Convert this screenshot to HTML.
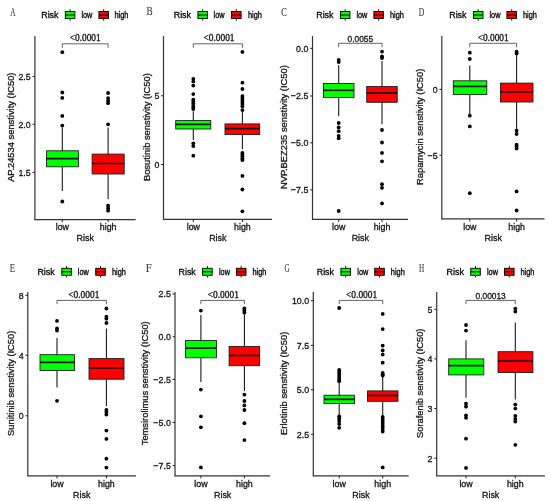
<!DOCTYPE html>
<html><head><meta charset="utf-8"><title>Risk boxplots</title>
<style>html,body{margin:0;padding:0;background:#fff;}svg{display:block;will-change:transform;}</style>
</head><body>
<svg width="550" height="501" viewBox="0 0 550 501">
<rect width="550" height="501" fill="#fff"/>
<g id="pA">
<text transform="translate(10.30,15.60) scale(0.58,1)" text-anchor="start" font-family="Liberation Serif, serif" font-size="12.5" fill="#3a3a3a" stroke="#3a3a3a" stroke-width="0.12">A</text>
<text transform="translate(41.20,18.40) scale(0.91,1)" text-anchor="start" font-family="Liberation Sans, sans-serif" font-size="9.8" fill="#000" stroke="#000" stroke-width="0.3">Risk</text>
<line x1="70.10000000000001" y1="9.100000000000001" x2="70.10000000000001" y2="20.700000000000003" stroke="#000" stroke-width="0.9"/>
<rect x="65.30000000000001" y="11.5" width="9.6" height="7.0" fill="#00ff00" stroke="#000" stroke-width="0.9"/>
<line x1="65.30000000000001" y1="15.0" x2="74.9" y2="15.0" stroke="#000" stroke-width="1.0"/>
<line x1="103.7" y1="9.100000000000001" x2="103.7" y2="20.700000000000003" stroke="#000" stroke-width="0.9"/>
<rect x="98.9" y="11.5" width="9.6" height="7.0" fill="#ff0000" stroke="#000" stroke-width="0.9"/>
<line x1="98.9" y1="15.0" x2="108.5" y2="15.0" stroke="#000" stroke-width="1.0"/>
<text transform="translate(81.40,18.40) scale(0.87,1)" text-anchor="start" font-family="Liberation Sans, sans-serif" font-size="8.4" fill="#000" stroke="#000" stroke-width="0.3">low</text>
<text transform="translate(114.50,18.40) scale(0.88,1)" text-anchor="start" font-family="Liberation Sans, sans-serif" font-size="8.4" fill="#000" stroke="#000" stroke-width="0.3">high</text>
<line x1="34.9" y1="36" x2="34.9" y2="220.1" stroke="#333" stroke-width="1.2"/>
<line x1="34.5" y1="219.6" x2="135.6" y2="219.6" stroke="#333" stroke-width="1.2"/>
<line x1="32.5" y1="76.5" x2="34.9" y2="76.5" stroke="#222" stroke-width="1.0"/>
<text transform="translate(30.70,79.90) scale(0.92,1)" text-anchor="end" font-family="Liberation Sans, sans-serif" font-size="9.6" fill="#111" stroke="#111" stroke-width="0.3">2.5</text>
<line x1="32.5" y1="124.3" x2="34.9" y2="124.3" stroke="#222" stroke-width="1.0"/>
<text transform="translate(30.70,127.70) scale(0.92,1)" text-anchor="end" font-family="Liberation Sans, sans-serif" font-size="9.6" fill="#111" stroke="#111" stroke-width="0.3">2.0</text>
<line x1="32.5" y1="172.4" x2="34.9" y2="172.4" stroke="#222" stroke-width="1.0"/>
<text transform="translate(30.70,175.80) scale(0.92,1)" text-anchor="end" font-family="Liberation Sans, sans-serif" font-size="9.6" fill="#111" stroke="#111" stroke-width="0.3">1.5</text>
<line x1="62.3" y1="219.6" x2="62.3" y2="222.2" stroke="#222" stroke-width="1.0"/>
<text transform="translate(62.30,229.90) scale(0.94,1)" text-anchor="middle" font-family="Liberation Sans, sans-serif" font-size="9.4" fill="#111" stroke="#111" stroke-width="0.3">low</text>
<line x1="108.1" y1="219.6" x2="108.1" y2="222.2" stroke="#222" stroke-width="1.0"/>
<text transform="translate(108.10,229.90) scale(0.94,1)" text-anchor="middle" font-family="Liberation Sans, sans-serif" font-size="9.4" fill="#111" stroke="#111" stroke-width="0.3">high</text>
<text transform="translate(85.20,240.70) scale(0.94,1)" text-anchor="middle" font-family="Liberation Sans, sans-serif" font-size="9.5" fill="#111" stroke="#111" stroke-width="0.3">Risk</text>
<text transform="translate(13.80,127.20) rotate(-90) scale(1,0.92)" text-anchor="middle" font-family="Liberation Sans, sans-serif" font-size="9.35" fill="#111" stroke="#111" stroke-width="0.3">AP.24534 senstivity (IC50)</text>
<line x1="62.3" y1="127.4" x2="62.3" y2="191.1" stroke="#111" stroke-width="1.05"/>
<rect x="46.6" y="150.8" width="31.8" height="16.0" fill="#00ff00" stroke="#151515" stroke-width="0.85"/>
<line x1="46.6" y1="158.7" x2="78.4" y2="158.7" stroke="#111" stroke-width="1.7"/>
<circle cx="62.3" cy="52.2" r="1.9" fill="#000"/>
<circle cx="62.3" cy="92.5" r="1.9" fill="#000"/>
<circle cx="62.3" cy="97.9" r="1.9" fill="#000"/>
<circle cx="62.3" cy="115.9" r="1.9" fill="#000"/>
<circle cx="62.3" cy="125.6" r="1.9" fill="#000"/>
<circle cx="62.3" cy="201.5" r="1.9" fill="#000"/>
<line x1="108.1" y1="127.4" x2="108.1" y2="199.3" stroke="#111" stroke-width="1.05"/>
<rect x="92.1" y="154.1" width="32.1" height="19.9" fill="#ff0000" stroke="#151515" stroke-width="0.85"/>
<line x1="92.1" y1="163.5" x2="124.2" y2="163.5" stroke="#111" stroke-width="1.7"/>
<circle cx="108.1" cy="93.0" r="1.9" fill="#000"/>
<circle cx="108.1" cy="98.1" r="1.9" fill="#000"/>
<circle cx="108.1" cy="100.7" r="1.9" fill="#000"/>
<circle cx="108.1" cy="103.2" r="1.9" fill="#000"/>
<circle cx="108.1" cy="124.3" r="1.9" fill="#000"/>
<circle cx="108.1" cy="205.7" r="1.9" fill="#000"/>
<circle cx="108.1" cy="208.2" r="1.9" fill="#000"/>
<circle cx="108.1" cy="210.7" r="1.9" fill="#000"/>
<path d="M62.3 47.8 V43.8 H108.1 V47.8" fill="none" stroke="#222" stroke-width="0.7"/>
<text transform="translate(85.20,40.90) scale(0.95,1)" text-anchor="middle" font-family="Liberation Serif, serif" font-size="9.9" fill="#111" stroke="#111" stroke-width="0.3">&lt;0.0001</text>
</g>
<g id="pB">
<text transform="translate(146.50,15.10) scale(0.74,1)" text-anchor="start" font-family="Liberation Serif, serif" font-size="12.5" fill="#3a3a3a" stroke="#3a3a3a" stroke-width="0.12">B</text>
<text transform="translate(173.70,18.40) scale(0.91,1)" text-anchor="start" font-family="Liberation Sans, sans-serif" font-size="9.8" fill="#000" stroke="#000" stroke-width="0.3">Risk</text>
<line x1="202.7" y1="9.100000000000001" x2="202.7" y2="20.700000000000003" stroke="#000" stroke-width="0.9"/>
<rect x="197.9" y="11.5" width="9.6" height="7.0" fill="#00ff00" stroke="#000" stroke-width="0.9"/>
<line x1="197.9" y1="15.0" x2="207.5" y2="15.0" stroke="#000" stroke-width="1.0"/>
<line x1="236.29999999999998" y1="9.100000000000001" x2="236.29999999999998" y2="20.700000000000003" stroke="#000" stroke-width="0.9"/>
<rect x="231.5" y="11.5" width="9.6" height="7.0" fill="#ff0000" stroke="#000" stroke-width="0.9"/>
<line x1="231.5" y1="15.0" x2="241.1" y2="15.0" stroke="#000" stroke-width="1.0"/>
<text transform="translate(213.60,18.40) scale(0.87,1)" text-anchor="start" font-family="Liberation Sans, sans-serif" font-size="8.4" fill="#000" stroke="#000" stroke-width="0.3">low</text>
<text transform="translate(248.00,18.40) scale(0.88,1)" text-anchor="start" font-family="Liberation Sans, sans-serif" font-size="8.4" fill="#000" stroke="#000" stroke-width="0.3">high</text>
<line x1="163.5" y1="36" x2="163.5" y2="219.9" stroke="#333" stroke-width="1.2"/>
<line x1="163.1" y1="219.4" x2="272.0" y2="219.4" stroke="#333" stroke-width="1.2"/>
<line x1="161.1" y1="95.8" x2="163.5" y2="95.8" stroke="#222" stroke-width="1.0"/>
<text transform="translate(159.30,99.20) scale(0.92,1)" text-anchor="end" font-family="Liberation Sans, sans-serif" font-size="9.6" fill="#111" stroke="#111" stroke-width="0.3">5</text>
<line x1="161.1" y1="164.5" x2="163.5" y2="164.5" stroke="#222" stroke-width="1.0"/>
<text transform="translate(159.30,167.90) scale(0.92,1)" text-anchor="end" font-family="Liberation Sans, sans-serif" font-size="9.6" fill="#111" stroke="#111" stroke-width="0.3">0</text>
<line x1="193.3" y1="219.4" x2="193.3" y2="222.0" stroke="#222" stroke-width="1.0"/>
<text transform="translate(193.30,229.90) scale(0.94,1)" text-anchor="middle" font-family="Liberation Sans, sans-serif" font-size="9.4" fill="#111" stroke="#111" stroke-width="0.3">low</text>
<line x1="242.4" y1="219.4" x2="242.4" y2="222.0" stroke="#222" stroke-width="1.0"/>
<text transform="translate(242.40,229.90) scale(0.94,1)" text-anchor="middle" font-family="Liberation Sans, sans-serif" font-size="9.4" fill="#111" stroke="#111" stroke-width="0.3">high</text>
<text transform="translate(217.85,240.70) scale(0.94,1)" text-anchor="middle" font-family="Liberation Sans, sans-serif" font-size="9.5" fill="#111" stroke="#111" stroke-width="0.3">Risk</text>
<text transform="translate(150.30,127.10) rotate(-90) scale(1,0.92)" text-anchor="middle" font-family="Liberation Sans, sans-serif" font-size="9.35" fill="#111" stroke="#111" stroke-width="0.3">Bosutinib senstivity (IC50)</text>
<line x1="193.3" y1="111.3" x2="193.3" y2="140.10000000000002" stroke="#111" stroke-width="1.05"/>
<rect x="175.7" y="120.6" width="35.1" height="8.4" fill="#00ff00" stroke="#151515" stroke-width="0.85"/>
<line x1="175.7" y1="124.39999999999999" x2="210.8" y2="124.39999999999999" stroke="#111" stroke-width="1.7"/>
<circle cx="193.3" cy="78.8" r="1.9" fill="#000"/>
<circle cx="193.3" cy="81.6" r="1.9" fill="#000"/>
<circle cx="193.3" cy="85.6" r="1.9" fill="#000"/>
<circle cx="193.3" cy="94.1" r="1.9" fill="#000"/>
<circle cx="193.3" cy="99.6" r="1.9" fill="#000"/>
<circle cx="193.3" cy="101.6" r="1.9" fill="#000"/>
<circle cx="193.3" cy="103.6" r="1.9" fill="#000"/>
<circle cx="193.3" cy="105.6" r="1.9" fill="#000"/>
<circle cx="193.3" cy="107.6" r="1.9" fill="#000"/>
<circle cx="193.3" cy="109.1" r="1.9" fill="#000"/>
<circle cx="193.3" cy="143.3" r="1.9" fill="#000"/>
<circle cx="193.3" cy="146.10000000000002" r="1.9" fill="#000"/>
<circle cx="193.3" cy="155.70000000000002" r="1.9" fill="#000"/>
<line x1="242.4" y1="111.3" x2="242.4" y2="149.3" stroke="#111" stroke-width="1.05"/>
<rect x="225" y="123.89999999999999" width="34.7" height="10.7" fill="#ff0000" stroke="#151515" stroke-width="0.85"/>
<line x1="225" y1="128.70000000000002" x2="259.7" y2="128.70000000000002" stroke="#111" stroke-width="1.7"/>
<circle cx="242.4" cy="51.9" r="1.9" fill="#000"/>
<circle cx="242.4" cy="82.7" r="1.9" fill="#000"/>
<circle cx="242.4" cy="89.0" r="1.9" fill="#000"/>
<circle cx="242.4" cy="96.1" r="1.9" fill="#000"/>
<circle cx="242.4" cy="98.1" r="1.9" fill="#000"/>
<circle cx="242.4" cy="100.1" r="1.9" fill="#000"/>
<circle cx="242.4" cy="102.1" r="1.9" fill="#000"/>
<circle cx="242.4" cy="104.1" r="1.9" fill="#000"/>
<circle cx="242.4" cy="106.3" r="1.9" fill="#000"/>
<circle cx="242.4" cy="110.1" r="1.9" fill="#000"/>
<circle cx="242.4" cy="152.9" r="1.9" fill="#000"/>
<circle cx="242.4" cy="154.70000000000002" r="1.9" fill="#000"/>
<circle cx="242.4" cy="156.5" r="1.9" fill="#000"/>
<circle cx="242.4" cy="158.3" r="1.9" fill="#000"/>
<circle cx="242.4" cy="160.10000000000002" r="1.9" fill="#000"/>
<circle cx="242.4" cy="175.9" r="1.9" fill="#000"/>
<circle cx="242.4" cy="189.5" r="1.9" fill="#000"/>
<circle cx="242.4" cy="211.3" r="1.9" fill="#000"/>
<path d="M193.3 47.8 V43.8 H242.4 V47.8" fill="none" stroke="#222" stroke-width="0.7"/>
<text transform="translate(219.00,40.90) scale(0.95,1)" text-anchor="middle" font-family="Liberation Serif, serif" font-size="9.9" fill="#111" stroke="#111" stroke-width="0.3">&lt;0.0001</text>
</g>
<g id="pC">
<text transform="translate(281.30,15.60) scale(0.67,1)" text-anchor="start" font-family="Liberation Serif, serif" font-size="12.5" fill="#3a3a3a" stroke="#3a3a3a" stroke-width="0.12">C</text>
<text transform="translate(316.20,18.40) scale(0.91,1)" text-anchor="start" font-family="Liberation Sans, sans-serif" font-size="9.8" fill="#000" stroke="#000" stroke-width="0.3">Risk</text>
<line x1="345.2" y1="9.100000000000001" x2="345.2" y2="20.700000000000003" stroke="#000" stroke-width="0.9"/>
<rect x="340.4" y="11.5" width="9.6" height="7.0" fill="#00ff00" stroke="#000" stroke-width="0.9"/>
<line x1="340.4" y1="15.0" x2="350" y2="15.0" stroke="#000" stroke-width="1.0"/>
<line x1="378.7" y1="9.100000000000001" x2="378.7" y2="20.700000000000003" stroke="#000" stroke-width="0.9"/>
<rect x="373.9" y="11.5" width="9.6" height="7.0" fill="#ff0000" stroke="#000" stroke-width="0.9"/>
<line x1="373.9" y1="15.0" x2="383.5" y2="15.0" stroke="#000" stroke-width="1.0"/>
<text transform="translate(356.40,18.40) scale(0.87,1)" text-anchor="start" font-family="Liberation Sans, sans-serif" font-size="8.4" fill="#000" stroke="#000" stroke-width="0.3">low</text>
<text transform="translate(390.00,18.40) scale(0.88,1)" text-anchor="start" font-family="Liberation Sans, sans-serif" font-size="8.4" fill="#000" stroke="#000" stroke-width="0.3">high</text>
<line x1="312.5" y1="36" x2="312.5" y2="219.9" stroke="#333" stroke-width="1.2"/>
<line x1="312.1" y1="219.4" x2="407.9" y2="219.4" stroke="#333" stroke-width="1.2"/>
<line x1="310.1" y1="48.3" x2="312.5" y2="48.3" stroke="#222" stroke-width="1.0"/>
<text transform="translate(308.30,51.70) scale(0.92,1)" text-anchor="end" font-family="Liberation Sans, sans-serif" font-size="9.6" fill="#111" stroke="#111" stroke-width="0.3">0.0</text>
<line x1="310.1" y1="96" x2="312.5" y2="96" stroke="#222" stroke-width="1.0"/>
<text transform="translate(308.30,99.40) scale(0.92,1)" text-anchor="end" font-family="Liberation Sans, sans-serif" font-size="9.6" fill="#111" stroke="#111" stroke-width="0.3">−2.5</text>
<line x1="310.1" y1="142.8" x2="312.5" y2="142.8" stroke="#222" stroke-width="1.0"/>
<text transform="translate(308.30,146.20) scale(0.92,1)" text-anchor="end" font-family="Liberation Sans, sans-serif" font-size="9.6" fill="#111" stroke="#111" stroke-width="0.3">−5.0</text>
<line x1="310.1" y1="189.9" x2="312.5" y2="189.9" stroke="#222" stroke-width="1.0"/>
<text transform="translate(308.30,193.30) scale(0.92,1)" text-anchor="end" font-family="Liberation Sans, sans-serif" font-size="9.6" fill="#111" stroke="#111" stroke-width="0.3">−7.5</text>
<line x1="338.7" y1="219.4" x2="338.7" y2="222.0" stroke="#222" stroke-width="1.0"/>
<text transform="translate(338.70,229.90) scale(0.94,1)" text-anchor="middle" font-family="Liberation Sans, sans-serif" font-size="9.4" fill="#111" stroke="#111" stroke-width="0.3">low</text>
<line x1="382" y1="219.4" x2="382" y2="222.0" stroke="#222" stroke-width="1.0"/>
<text transform="translate(382.00,229.90) scale(0.94,1)" text-anchor="middle" font-family="Liberation Sans, sans-serif" font-size="9.4" fill="#111" stroke="#111" stroke-width="0.3">high</text>
<text transform="translate(360.35,240.70) scale(0.94,1)" text-anchor="middle" font-family="Liberation Sans, sans-serif" font-size="9.5" fill="#111" stroke="#111" stroke-width="0.3">Risk</text>
<text transform="translate(286.50,127.10) rotate(-90) scale(1,0.92)" text-anchor="middle" font-family="Liberation Sans, sans-serif" font-size="9.35" fill="#111" stroke="#111" stroke-width="0.3">NVP.BEZ235 senstivity (IC50)</text>
<line x1="338.7" y1="65" x2="338.7" y2="116.2" stroke="#111" stroke-width="1.05"/>
<rect x="323.4" y="83.5" width="30.6" height="14.0" fill="#00ff00" stroke="#151515" stroke-width="0.85"/>
<line x1="323.4" y1="90.3" x2="354" y2="90.3" stroke="#111" stroke-width="1.7"/>
<circle cx="338.7" cy="60" r="1.9" fill="#000"/>
<circle cx="338.7" cy="62" r="1.9" fill="#000"/>
<circle cx="338.7" cy="123" r="1.9" fill="#000"/>
<circle cx="338.7" cy="127.4" r="1.9" fill="#000"/>
<circle cx="338.7" cy="131.2" r="1.9" fill="#000"/>
<circle cx="338.7" cy="135.8" r="1.9" fill="#000"/>
<circle cx="338.7" cy="138.3" r="1.9" fill="#000"/>
<circle cx="338.7" cy="211" r="1.9" fill="#000"/>
<line x1="382" y1="61" x2="382" y2="124.3" stroke="#111" stroke-width="1.05"/>
<rect x="366.7" y="86.5" width="30.5" height="15.8" fill="#ff0000" stroke="#151515" stroke-width="0.85"/>
<line x1="366.7" y1="92.9" x2="397.2" y2="92.9" stroke="#111" stroke-width="1.7"/>
<circle cx="382" cy="51.6" r="1.9" fill="#000"/>
<circle cx="382" cy="56.5" r="1.9" fill="#000"/>
<circle cx="382" cy="58" r="1.9" fill="#000"/>
<circle cx="382" cy="130" r="1.9" fill="#000"/>
<circle cx="382" cy="142.5" r="1.9" fill="#000"/>
<circle cx="382" cy="152.9" r="1.9" fill="#000"/>
<circle cx="382" cy="161.3" r="1.9" fill="#000"/>
<circle cx="382" cy="184.2" r="1.9" fill="#000"/>
<circle cx="382" cy="187.8" r="1.9" fill="#000"/>
<circle cx="382" cy="203.4" r="1.9" fill="#000"/>
<path d="M338.7 47.3 V43.3 H382 V47.3" fill="none" stroke="#222" stroke-width="0.7"/>
<text transform="translate(360.35,41.70) scale(0.93,1)" text-anchor="middle" font-family="Liberation Sans, sans-serif" font-size="9.0" fill="#111" stroke="#111" stroke-width="0.3">0.0055</text>
</g>
<g id="pD">
<text transform="translate(418.80,15.60) scale(0.62,1)" text-anchor="start" font-family="Liberation Serif, serif" font-size="12.5" fill="#3a3a3a" stroke="#3a3a3a" stroke-width="0.12">D</text>
<text transform="translate(449.20,18.40) scale(0.91,1)" text-anchor="start" font-family="Liberation Sans, sans-serif" font-size="9.8" fill="#000" stroke="#000" stroke-width="0.3">Risk</text>
<line x1="478.2" y1="9.100000000000001" x2="478.2" y2="20.700000000000003" stroke="#000" stroke-width="0.9"/>
<rect x="473.4" y="11.5" width="9.6" height="7.0" fill="#00ff00" stroke="#000" stroke-width="0.9"/>
<line x1="473.4" y1="15.0" x2="483" y2="15.0" stroke="#000" stroke-width="1.0"/>
<line x1="511.7" y1="9.100000000000001" x2="511.7" y2="20.700000000000003" stroke="#000" stroke-width="0.9"/>
<rect x="506.9" y="11.5" width="9.6" height="7.0" fill="#ff0000" stroke="#000" stroke-width="0.9"/>
<line x1="506.9" y1="15.0" x2="516.5" y2="15.0" stroke="#000" stroke-width="1.0"/>
<text transform="translate(489.50,18.40) scale(0.87,1)" text-anchor="start" font-family="Liberation Sans, sans-serif" font-size="8.4" fill="#000" stroke="#000" stroke-width="0.3">low</text>
<text transform="translate(523.00,18.40) scale(0.88,1)" text-anchor="start" font-family="Liberation Sans, sans-serif" font-size="8.4" fill="#000" stroke="#000" stroke-width="0.3">high</text>
<line x1="441.8" y1="36" x2="441.8" y2="219.4" stroke="#333" stroke-width="1.2"/>
<line x1="441.40000000000003" y1="218.9" x2="544.5" y2="218.9" stroke="#333" stroke-width="1.2"/>
<line x1="439.40000000000003" y1="89.4" x2="441.8" y2="89.4" stroke="#222" stroke-width="1.0"/>
<text transform="translate(437.60,92.80) scale(0.92,1)" text-anchor="end" font-family="Liberation Sans, sans-serif" font-size="9.6" fill="#111" stroke="#111" stroke-width="0.3">0</text>
<line x1="439.40000000000003" y1="155.2" x2="441.8" y2="155.2" stroke="#222" stroke-width="1.0"/>
<text transform="translate(437.60,158.60) scale(0.92,1)" text-anchor="end" font-family="Liberation Sans, sans-serif" font-size="9.6" fill="#111" stroke="#111" stroke-width="0.3">−5</text>
<line x1="469.8" y1="218.9" x2="469.8" y2="221.5" stroke="#222" stroke-width="1.0"/>
<text transform="translate(469.80,229.90) scale(0.94,1)" text-anchor="middle" font-family="Liberation Sans, sans-serif" font-size="9.4" fill="#111" stroke="#111" stroke-width="0.3">low</text>
<line x1="516.6" y1="218.9" x2="516.6" y2="221.5" stroke="#222" stroke-width="1.0"/>
<text transform="translate(516.60,229.90) scale(0.94,1)" text-anchor="middle" font-family="Liberation Sans, sans-serif" font-size="9.4" fill="#111" stroke="#111" stroke-width="0.3">high</text>
<text transform="translate(493.20,240.70) scale(0.94,1)" text-anchor="middle" font-family="Liberation Sans, sans-serif" font-size="9.5" fill="#111" stroke="#111" stroke-width="0.3">Risk</text>
<text transform="translate(422.70,126.85) rotate(-90) scale(1,0.92)" text-anchor="middle" font-family="Liberation Sans, sans-serif" font-size="9.35" fill="#111" stroke="#111" stroke-width="0.3">Rapamycin senstivity (IC50)</text>
<line x1="469.8" y1="65.6" x2="469.8" y2="114" stroke="#111" stroke-width="1.05"/>
<rect x="453.3" y="80.8" width="33.5" height="13.8" fill="#00ff00" stroke="#151515" stroke-width="0.85"/>
<line x1="453.3" y1="86.4" x2="486.8" y2="86.4" stroke="#111" stroke-width="1.7"/>
<circle cx="469.8" cy="52.7" r="1.9" fill="#000"/>
<circle cx="469.8" cy="59" r="1.9" fill="#000"/>
<circle cx="469.8" cy="115.7" r="1.9" fill="#000"/>
<circle cx="469.8" cy="126.4" r="1.9" fill="#000"/>
<circle cx="469.8" cy="193.2" r="1.9" fill="#000"/>
<line x1="516.6" y1="54.7" x2="516.6" y2="129.4" stroke="#111" stroke-width="1.05"/>
<rect x="500.4" y="83.1" width="32.6" height="18.9" fill="#ff0000" stroke="#151515" stroke-width="0.85"/>
<line x1="500.4" y1="91.8" x2="533.0" y2="91.8" stroke="#111" stroke-width="1.7"/>
<circle cx="516.6" cy="51.7" r="1.9" fill="#000"/>
<circle cx="516.6" cy="53.4" r="1.9" fill="#000"/>
<circle cx="516.6" cy="130.7" r="1.9" fill="#000"/>
<circle cx="516.6" cy="134" r="1.9" fill="#000"/>
<circle cx="516.6" cy="144.7" r="1.9" fill="#000"/>
<circle cx="516.6" cy="146.5" r="1.9" fill="#000"/>
<circle cx="516.6" cy="148.5" r="1.9" fill="#000"/>
<circle cx="516.6" cy="191.4" r="1.9" fill="#000"/>
<circle cx="516.6" cy="210.5" r="1.9" fill="#000"/>
<path d="M469.8 47.3 V43.3 H516.6 V47.3" fill="none" stroke="#222" stroke-width="0.7"/>
<text transform="translate(493.20,40.90) scale(0.95,1)" text-anchor="middle" font-family="Liberation Serif, serif" font-size="9.9" fill="#111" stroke="#111" stroke-width="0.3">&lt;0.0001</text>
</g>
<g id="pE">
<text transform="translate(9.70,271.60) scale(0.68,1)" text-anchor="start" font-family="Liberation Serif, serif" font-size="12.5" fill="#3a3a3a" stroke="#3a3a3a" stroke-width="0.12">E</text>
<text transform="translate(37.40,275.20) scale(0.91,1)" text-anchor="start" font-family="Liberation Sans, sans-serif" font-size="9.8" fill="#000" stroke="#000" stroke-width="0.3">Risk</text>
<line x1="66.6" y1="265.90000000000003" x2="66.6" y2="277.5" stroke="#000" stroke-width="0.9"/>
<rect x="61.8" y="268.3" width="9.6" height="7.0" fill="#00ff00" stroke="#000" stroke-width="0.9"/>
<line x1="61.8" y1="271.8" x2="71.4" y2="271.8" stroke="#000" stroke-width="1.0"/>
<line x1="100.5" y1="265.90000000000003" x2="100.5" y2="277.5" stroke="#000" stroke-width="0.9"/>
<rect x="95.7" y="268.3" width="9.6" height="7.0" fill="#ff0000" stroke="#000" stroke-width="0.9"/>
<line x1="95.7" y1="271.8" x2="105.3" y2="271.8" stroke="#000" stroke-width="1.0"/>
<text transform="translate(77.80,275.20) scale(0.87,1)" text-anchor="start" font-family="Liberation Sans, sans-serif" font-size="8.4" fill="#000" stroke="#000" stroke-width="0.3">low</text>
<text transform="translate(111.90,275.20) scale(0.88,1)" text-anchor="start" font-family="Liberation Sans, sans-serif" font-size="8.4" fill="#000" stroke="#000" stroke-width="0.3">high</text>
<line x1="27.8" y1="292" x2="27.8" y2="476.3" stroke="#333" stroke-width="1.2"/>
<line x1="27.400000000000002" y1="475.8" x2="135.9" y2="475.8" stroke="#333" stroke-width="1.2"/>
<line x1="25.400000000000002" y1="295.3" x2="27.8" y2="295.3" stroke="#222" stroke-width="1.0"/>
<text transform="translate(23.60,298.70) scale(0.92,1)" text-anchor="end" font-family="Liberation Sans, sans-serif" font-size="9.6" fill="#111" stroke="#111" stroke-width="0.3">8</text>
<line x1="25.400000000000002" y1="355.2" x2="27.8" y2="355.2" stroke="#222" stroke-width="1.0"/>
<text transform="translate(23.60,358.60) scale(0.92,1)" text-anchor="end" font-family="Liberation Sans, sans-serif" font-size="9.6" fill="#111" stroke="#111" stroke-width="0.3">4</text>
<line x1="25.400000000000002" y1="415.8" x2="27.8" y2="415.8" stroke="#222" stroke-width="1.0"/>
<text transform="translate(23.60,419.20) scale(0.92,1)" text-anchor="end" font-family="Liberation Sans, sans-serif" font-size="9.6" fill="#111" stroke="#111" stroke-width="0.3">0</text>
<line x1="57" y1="475.8" x2="57" y2="478.40000000000003" stroke="#222" stroke-width="1.0"/>
<text transform="translate(57.00,486.90) scale(0.94,1)" text-anchor="middle" font-family="Liberation Sans, sans-serif" font-size="9.4" fill="#111" stroke="#111" stroke-width="0.3">low</text>
<line x1="106.4" y1="475.8" x2="106.4" y2="478.40000000000003" stroke="#222" stroke-width="1.0"/>
<text transform="translate(106.40,486.90) scale(0.94,1)" text-anchor="middle" font-family="Liberation Sans, sans-serif" font-size="9.4" fill="#111" stroke="#111" stroke-width="0.3">high</text>
<text transform="translate(81.70,497.70) scale(0.94,1)" text-anchor="middle" font-family="Liberation Sans, sans-serif" font-size="9.5" fill="#111" stroke="#111" stroke-width="0.3">Risk</text>
<text transform="translate(14.40,383.30) rotate(-90) scale(1,0.92)" text-anchor="middle" font-family="Liberation Sans, sans-serif" font-size="9.35" fill="#111" stroke="#111" stroke-width="0.3">Sunitinib senstivity (IC50)</text>
<line x1="57" y1="338" x2="57" y2="387.6" stroke="#111" stroke-width="1.05"/>
<rect x="40" y="354.7" width="34.6" height="15.8" fill="#00ff00" stroke="#151515" stroke-width="0.85"/>
<line x1="40" y1="362.4" x2="74.6" y2="362.4" stroke="#111" stroke-width="1.7"/>
<circle cx="57" cy="320.9" r="1.9" fill="#000"/>
<circle cx="57" cy="328.5" r="1.9" fill="#000"/>
<circle cx="57" cy="330.6" r="1.9" fill="#000"/>
<circle cx="57" cy="400.8" r="1.9" fill="#000"/>
<line x1="106.4" y1="328.5" x2="106.4" y2="406" stroke="#111" stroke-width="1.05"/>
<rect x="89" y="358.6" width="35.0" height="20.6" fill="#ff0000" stroke="#151515" stroke-width="0.85"/>
<line x1="89" y1="368" x2="124" y2="368" stroke="#111" stroke-width="1.7"/>
<circle cx="106.4" cy="308.5" r="1.9" fill="#000"/>
<circle cx="106.4" cy="316.7" r="1.9" fill="#000"/>
<circle cx="106.4" cy="318.7" r="1.9" fill="#000"/>
<circle cx="106.4" cy="323" r="1.9" fill="#000"/>
<circle cx="106.4" cy="410" r="1.9" fill="#000"/>
<circle cx="106.4" cy="412" r="1.9" fill="#000"/>
<circle cx="106.4" cy="414.5" r="1.9" fill="#000"/>
<circle cx="106.4" cy="430.6" r="1.9" fill="#000"/>
<circle cx="106.4" cy="438.9" r="1.9" fill="#000"/>
<circle cx="106.4" cy="458.7" r="1.9" fill="#000"/>
<circle cx="106.4" cy="467.6" r="1.9" fill="#000"/>
<path d="M57 304.2 V300.4 H106.4 V304.2" fill="none" stroke="#222" stroke-width="0.7"/>
<text transform="translate(83.80,297.50) scale(0.95,1)" text-anchor="middle" font-family="Liberation Serif, serif" font-size="9.9" fill="#111" stroke="#111" stroke-width="0.3">&lt;0.0001</text>
</g>
<g id="pF">
<text transform="translate(145.80,271.60) scale(0.86,1)" text-anchor="start" font-family="Liberation Serif, serif" font-size="12.5" fill="#3a3a3a" stroke="#3a3a3a" stroke-width="0.12">F</text>
<text transform="translate(178.50,275.20) scale(0.91,1)" text-anchor="start" font-family="Liberation Sans, sans-serif" font-size="9.8" fill="#000" stroke="#000" stroke-width="0.3">Risk</text>
<line x1="207.39999999999998" y1="265.90000000000003" x2="207.39999999999998" y2="277.5" stroke="#000" stroke-width="0.9"/>
<rect x="202.6" y="268.3" width="9.6" height="7.0" fill="#00ff00" stroke="#000" stroke-width="0.9"/>
<line x1="202.6" y1="271.8" x2="212.2" y2="271.8" stroke="#000" stroke-width="1.0"/>
<line x1="241.2" y1="265.90000000000003" x2="241.2" y2="277.5" stroke="#000" stroke-width="0.9"/>
<rect x="236.4" y="268.3" width="9.6" height="7.0" fill="#ff0000" stroke="#000" stroke-width="0.9"/>
<line x1="236.4" y1="271.8" x2="246" y2="271.8" stroke="#000" stroke-width="1.0"/>
<text transform="translate(219.00,275.20) scale(0.87,1)" text-anchor="start" font-family="Liberation Sans, sans-serif" font-size="8.4" fill="#000" stroke="#000" stroke-width="0.3">low</text>
<text transform="translate(252.50,275.20) scale(0.88,1)" text-anchor="start" font-family="Liberation Sans, sans-serif" font-size="8.4" fill="#000" stroke="#000" stroke-width="0.3">high</text>
<line x1="175" y1="292" x2="175" y2="476.3" stroke="#333" stroke-width="1.2"/>
<line x1="174.6" y1="475.8" x2="270.1" y2="475.8" stroke="#333" stroke-width="1.2"/>
<line x1="172.6" y1="294" x2="175" y2="294" stroke="#222" stroke-width="1.0"/>
<text transform="translate(170.80,297.40) scale(0.92,1)" text-anchor="end" font-family="Liberation Sans, sans-serif" font-size="9.6" fill="#111" stroke="#111" stroke-width="0.3">2.5</text>
<line x1="172.6" y1="336.8" x2="175" y2="336.8" stroke="#222" stroke-width="1.0"/>
<text transform="translate(170.80,340.20) scale(0.92,1)" text-anchor="end" font-family="Liberation Sans, sans-serif" font-size="9.6" fill="#111" stroke="#111" stroke-width="0.3">0.0</text>
<line x1="172.6" y1="379.5" x2="175" y2="379.5" stroke="#222" stroke-width="1.0"/>
<text transform="translate(170.80,382.90) scale(0.92,1)" text-anchor="end" font-family="Liberation Sans, sans-serif" font-size="9.6" fill="#111" stroke="#111" stroke-width="0.3">−2.5</text>
<line x1="172.6" y1="422.5" x2="175" y2="422.5" stroke="#222" stroke-width="1.0"/>
<text transform="translate(170.80,425.90) scale(0.92,1)" text-anchor="end" font-family="Liberation Sans, sans-serif" font-size="9.6" fill="#111" stroke="#111" stroke-width="0.3">−5.0</text>
<line x1="172.6" y1="465.6" x2="175" y2="465.6" stroke="#222" stroke-width="1.0"/>
<text transform="translate(170.80,469.00) scale(0.92,1)" text-anchor="end" font-family="Liberation Sans, sans-serif" font-size="9.6" fill="#111" stroke="#111" stroke-width="0.3">−7.5</text>
<line x1="200.9" y1="475.8" x2="200.9" y2="478.40000000000003" stroke="#222" stroke-width="1.0"/>
<text transform="translate(200.90,486.90) scale(0.94,1)" text-anchor="middle" font-family="Liberation Sans, sans-serif" font-size="9.4" fill="#111" stroke="#111" stroke-width="0.3">low</text>
<line x1="244.4" y1="475.8" x2="244.4" y2="478.40000000000003" stroke="#222" stroke-width="1.0"/>
<text transform="translate(244.40,486.90) scale(0.94,1)" text-anchor="middle" font-family="Liberation Sans, sans-serif" font-size="9.4" fill="#111" stroke="#111" stroke-width="0.3">high</text>
<text transform="translate(222.65,497.70) scale(0.94,1)" text-anchor="middle" font-family="Liberation Sans, sans-serif" font-size="9.5" fill="#111" stroke="#111" stroke-width="0.3">Risk</text>
<text transform="translate(148.00,383.30) rotate(-90) scale(1,0.92)" text-anchor="middle" font-family="Liberation Sans, sans-serif" font-size="9.35" fill="#111" stroke="#111" stroke-width="0.3">Temsirolimus senstivity (IC50)</text>
<line x1="200.9" y1="315" x2="200.9" y2="382" stroke="#111" stroke-width="1.05"/>
<rect x="185.6" y="340.5" width="30.8" height="17.3" fill="#00ff00" stroke="#151515" stroke-width="0.85"/>
<line x1="185.6" y1="348.1" x2="216.4" y2="348.1" stroke="#111" stroke-width="1.7"/>
<circle cx="200.9" cy="310.6" r="1.9" fill="#000"/>
<circle cx="200.9" cy="389.6" r="1.9" fill="#000"/>
<circle cx="200.9" cy="416.3" r="1.9" fill="#000"/>
<circle cx="200.9" cy="427.3" r="1.9" fill="#000"/>
<circle cx="200.9" cy="467.4" r="1.9" fill="#000"/>
<line x1="244.4" y1="313.6" x2="244.4" y2="390.9" stroke="#111" stroke-width="1.05"/>
<rect x="229.1" y="346.4" width="30.6" height="19.3" fill="#ff0000" stroke="#151515" stroke-width="0.85"/>
<line x1="229.1" y1="355.5" x2="259.7" y2="355.5" stroke="#111" stroke-width="1.7"/>
<circle cx="244.4" cy="308.5" r="1.9" fill="#000"/>
<circle cx="244.4" cy="310.5" r="1.9" fill="#000"/>
<circle cx="244.4" cy="312.5" r="1.9" fill="#000"/>
<circle cx="244.4" cy="394.7" r="1.9" fill="#000"/>
<circle cx="244.4" cy="401" r="1.9" fill="#000"/>
<circle cx="244.4" cy="405.4" r="1.9" fill="#000"/>
<circle cx="244.4" cy="410" r="1.9" fill="#000"/>
<circle cx="244.4" cy="423.2" r="1.9" fill="#000"/>
<circle cx="244.4" cy="440.1" r="1.9" fill="#000"/>
<path d="M200.9 304.2 V300.4 H244.4 V304.2" fill="none" stroke="#222" stroke-width="0.7"/>
<text transform="translate(223.30,297.50) scale(0.95,1)" text-anchor="middle" font-family="Liberation Serif, serif" font-size="9.9" fill="#111" stroke="#111" stroke-width="0.3">&lt;0.0001</text>
</g>
<g id="pG">
<text transform="translate(284.40,271.60) scale(0.58,1)" text-anchor="start" font-family="Liberation Serif, serif" font-size="12.5" fill="#3a3a3a" stroke="#3a3a3a" stroke-width="0.12">G</text>
<text transform="translate(316.70,275.20) scale(0.91,1)" text-anchor="start" font-family="Liberation Sans, sans-serif" font-size="9.8" fill="#000" stroke="#000" stroke-width="0.3">Risk</text>
<line x1="345.7" y1="265.90000000000003" x2="345.7" y2="277.5" stroke="#000" stroke-width="0.9"/>
<rect x="340.9" y="268.3" width="9.6" height="7.0" fill="#00ff00" stroke="#000" stroke-width="0.9"/>
<line x1="340.9" y1="271.8" x2="350.5" y2="271.8" stroke="#000" stroke-width="1.0"/>
<line x1="379.5" y1="265.90000000000003" x2="379.5" y2="277.5" stroke="#000" stroke-width="0.9"/>
<rect x="374.7" y="268.3" width="9.6" height="7.0" fill="#ff0000" stroke="#000" stroke-width="0.9"/>
<line x1="374.7" y1="271.8" x2="384.3" y2="271.8" stroke="#000" stroke-width="1.0"/>
<text transform="translate(357.30,275.20) scale(0.87,1)" text-anchor="start" font-family="Liberation Sans, sans-serif" font-size="8.4" fill="#000" stroke="#000" stroke-width="0.3">low</text>
<text transform="translate(390.80,275.20) scale(0.88,1)" text-anchor="start" font-family="Liberation Sans, sans-serif" font-size="8.4" fill="#000" stroke="#000" stroke-width="0.3">high</text>
<line x1="313.3" y1="292" x2="313.3" y2="476.3" stroke="#333" stroke-width="1.2"/>
<line x1="312.90000000000003" y1="475.8" x2="408.7" y2="475.8" stroke="#333" stroke-width="1.2"/>
<line x1="310.90000000000003" y1="300.6" x2="313.3" y2="300.6" stroke="#222" stroke-width="1.0"/>
<text transform="translate(309.10,304.00) scale(0.92,1)" text-anchor="end" font-family="Liberation Sans, sans-serif" font-size="9.6" fill="#111" stroke="#111" stroke-width="0.3">10.0</text>
<line x1="310.90000000000003" y1="345.4" x2="313.3" y2="345.4" stroke="#222" stroke-width="1.0"/>
<text transform="translate(309.10,348.80) scale(0.92,1)" text-anchor="end" font-family="Liberation Sans, sans-serif" font-size="9.6" fill="#111" stroke="#111" stroke-width="0.3">7.5</text>
<line x1="310.90000000000003" y1="389.7" x2="313.3" y2="389.7" stroke="#222" stroke-width="1.0"/>
<text transform="translate(309.10,393.10) scale(0.92,1)" text-anchor="end" font-family="Liberation Sans, sans-serif" font-size="9.6" fill="#111" stroke="#111" stroke-width="0.3">5.0</text>
<line x1="310.90000000000003" y1="434.3" x2="313.3" y2="434.3" stroke="#222" stroke-width="1.0"/>
<text transform="translate(309.10,437.70) scale(0.92,1)" text-anchor="end" font-family="Liberation Sans, sans-serif" font-size="9.6" fill="#111" stroke="#111" stroke-width="0.3">2.5</text>
<line x1="339.2" y1="475.8" x2="339.2" y2="478.40000000000003" stroke="#222" stroke-width="1.0"/>
<text transform="translate(339.20,486.90) scale(0.94,1)" text-anchor="middle" font-family="Liberation Sans, sans-serif" font-size="9.4" fill="#111" stroke="#111" stroke-width="0.3">low</text>
<line x1="382.7" y1="475.8" x2="382.7" y2="478.40000000000003" stroke="#222" stroke-width="1.0"/>
<text transform="translate(382.70,486.90) scale(0.94,1)" text-anchor="middle" font-family="Liberation Sans, sans-serif" font-size="9.4" fill="#111" stroke="#111" stroke-width="0.3">high</text>
<text transform="translate(360.95,497.70) scale(0.94,1)" text-anchor="middle" font-family="Liberation Sans, sans-serif" font-size="9.5" fill="#111" stroke="#111" stroke-width="0.3">Risk</text>
<text transform="translate(287.20,383.30) rotate(-90) scale(1,0.92)" text-anchor="middle" font-family="Liberation Sans, sans-serif" font-size="9.35" fill="#111" stroke="#111" stroke-width="0.3">Erlotinib senstivity (IC50)</text>
<line x1="339.2" y1="382" x2="339.2" y2="415" stroke="#111" stroke-width="1.05"/>
<rect x="324" y="395.2" width="30.5" height="8.4" fill="#00ff00" stroke="#151515" stroke-width="0.85"/>
<line x1="324" y1="399.3" x2="354.5" y2="399.3" stroke="#111" stroke-width="1.7"/>
<circle cx="339.2" cy="308" r="1.9" fill="#000"/>
<circle cx="339.2" cy="370" r="1.9" fill="#000"/>
<circle cx="339.2" cy="372" r="1.9" fill="#000"/>
<circle cx="339.2" cy="374" r="1.9" fill="#000"/>
<circle cx="339.2" cy="376" r="1.9" fill="#000"/>
<circle cx="339.2" cy="378" r="1.9" fill="#000"/>
<circle cx="339.2" cy="380" r="1.9" fill="#000"/>
<circle cx="339.2" cy="381.2" r="1.9" fill="#000"/>
<circle cx="339.2" cy="416.3" r="1.9" fill="#000"/>
<circle cx="339.2" cy="418.5" r="1.9" fill="#000"/>
<circle cx="339.2" cy="421" r="1.9" fill="#000"/>
<circle cx="339.2" cy="424" r="1.9" fill="#000"/>
<circle cx="339.2" cy="427.8" r="1.9" fill="#000"/>
<line x1="382.7" y1="376.9" x2="382.7" y2="415.8" stroke="#111" stroke-width="1.05"/>
<rect x="367.5" y="390.9" width="30.5" height="10.4" fill="#ff0000" stroke="#151515" stroke-width="0.85"/>
<line x1="367.5" y1="395.5" x2="398" y2="395.5" stroke="#111" stroke-width="1.7"/>
<circle cx="382.7" cy="313.9" r="1.9" fill="#000"/>
<circle cx="382.7" cy="329.1" r="1.9" fill="#000"/>
<circle cx="382.7" cy="345.7" r="1.9" fill="#000"/>
<circle cx="382.7" cy="350.5" r="1.9" fill="#000"/>
<circle cx="382.7" cy="354.6" r="1.9" fill="#000"/>
<circle cx="382.7" cy="362.7" r="1.9" fill="#000"/>
<circle cx="382.7" cy="372.9" r="1.9" fill="#000"/>
<circle cx="382.7" cy="374.5" r="1.9" fill="#000"/>
<circle cx="382.7" cy="375.6" r="1.9" fill="#000"/>
<circle cx="382.7" cy="417" r="1.9" fill="#000"/>
<circle cx="382.7" cy="419" r="1.9" fill="#000"/>
<circle cx="382.7" cy="421" r="1.9" fill="#000"/>
<circle cx="382.7" cy="423" r="1.9" fill="#000"/>
<circle cx="382.7" cy="425" r="1.9" fill="#000"/>
<circle cx="382.7" cy="427" r="1.9" fill="#000"/>
<circle cx="382.7" cy="429" r="1.9" fill="#000"/>
<circle cx="382.7" cy="431.6" r="1.9" fill="#000"/>
<circle cx="382.7" cy="467.4" r="1.9" fill="#000"/>
<path d="M339.2 304.2 V300.4 H382.7 V304.2" fill="none" stroke="#222" stroke-width="0.7"/>
<text transform="translate(361.60,297.50) scale(0.95,1)" text-anchor="middle" font-family="Liberation Serif, serif" font-size="9.9" fill="#111" stroke="#111" stroke-width="0.3">&lt;0.0001</text>
</g>
<g id="pH">
<text transform="translate(419.10,271.60) scale(0.58,1)" text-anchor="start" font-family="Liberation Serif, serif" font-size="12.5" fill="#3a3a3a" stroke="#3a3a3a" stroke-width="0.12">H</text>
<text transform="translate(446.60,275.20) scale(0.91,1)" text-anchor="start" font-family="Liberation Sans, sans-serif" font-size="9.8" fill="#000" stroke="#000" stroke-width="0.3">Risk</text>
<line x1="475.5" y1="265.90000000000003" x2="475.5" y2="277.5" stroke="#000" stroke-width="0.9"/>
<rect x="470.7" y="268.3" width="9.6" height="7.0" fill="#00ff00" stroke="#000" stroke-width="0.9"/>
<line x1="470.7" y1="271.8" x2="480.3" y2="271.8" stroke="#000" stroke-width="1.0"/>
<line x1="509.3" y1="265.90000000000003" x2="509.3" y2="277.5" stroke="#000" stroke-width="0.9"/>
<rect x="504.5" y="268.3" width="9.6" height="7.0" fill="#ff0000" stroke="#000" stroke-width="0.9"/>
<line x1="504.5" y1="271.8" x2="514.1" y2="271.8" stroke="#000" stroke-width="1.0"/>
<text transform="translate(487.00,275.20) scale(0.87,1)" text-anchor="start" font-family="Liberation Sans, sans-serif" font-size="8.4" fill="#000" stroke="#000" stroke-width="0.3">low</text>
<text transform="translate(520.40,275.20) scale(0.88,1)" text-anchor="start" font-family="Liberation Sans, sans-serif" font-size="8.4" fill="#000" stroke="#000" stroke-width="0.3">high</text>
<line x1="436.7" y1="292" x2="436.7" y2="476.3" stroke="#333" stroke-width="1.2"/>
<line x1="436.3" y1="475.8" x2="544.9" y2="475.8" stroke="#333" stroke-width="1.2"/>
<line x1="434.3" y1="309.3" x2="436.7" y2="309.3" stroke="#222" stroke-width="1.0"/>
<text transform="translate(432.50,312.70) scale(0.92,1)" text-anchor="end" font-family="Liberation Sans, sans-serif" font-size="9.6" fill="#111" stroke="#111" stroke-width="0.3">5</text>
<line x1="434.3" y1="358.9" x2="436.7" y2="358.9" stroke="#222" stroke-width="1.0"/>
<text transform="translate(432.50,362.30) scale(0.92,1)" text-anchor="end" font-family="Liberation Sans, sans-serif" font-size="9.6" fill="#111" stroke="#111" stroke-width="0.3">4</text>
<line x1="434.3" y1="408.5" x2="436.7" y2="408.5" stroke="#222" stroke-width="1.0"/>
<text transform="translate(432.50,411.90) scale(0.92,1)" text-anchor="end" font-family="Liberation Sans, sans-serif" font-size="9.6" fill="#111" stroke="#111" stroke-width="0.3">3</text>
<line x1="434.3" y1="458.2" x2="436.7" y2="458.2" stroke="#222" stroke-width="1.0"/>
<text transform="translate(432.50,461.60) scale(0.92,1)" text-anchor="end" font-family="Liberation Sans, sans-serif" font-size="9.6" fill="#111" stroke="#111" stroke-width="0.3">2</text>
<line x1="466" y1="475.8" x2="466" y2="478.40000000000003" stroke="#222" stroke-width="1.0"/>
<text transform="translate(466.00,486.90) scale(0.94,1)" text-anchor="middle" font-family="Liberation Sans, sans-serif" font-size="9.4" fill="#111" stroke="#111" stroke-width="0.3">low</text>
<line x1="515.3" y1="475.8" x2="515.3" y2="478.40000000000003" stroke="#222" stroke-width="1.0"/>
<text transform="translate(515.30,486.90) scale(0.94,1)" text-anchor="middle" font-family="Liberation Sans, sans-serif" font-size="9.4" fill="#111" stroke="#111" stroke-width="0.3">high</text>
<text transform="translate(490.65,497.70) scale(0.94,1)" text-anchor="middle" font-family="Liberation Sans, sans-serif" font-size="9.5" fill="#111" stroke="#111" stroke-width="0.3">Risk</text>
<text transform="translate(422.60,383.30) rotate(-90) scale(1,0.92)" text-anchor="middle" font-family="Liberation Sans, sans-serif" font-size="9.35" fill="#111" stroke="#111" stroke-width="0.3">Sorafenib senstivity (IC50)</text>
<line x1="466" y1="340.3" x2="466" y2="397.8" stroke="#111" stroke-width="1.05"/>
<rect x="448.7" y="358.90000000000003" width="35.1" height="16.0" fill="#00ff00" stroke="#151515" stroke-width="0.85"/>
<line x1="448.7" y1="365.7" x2="483.8" y2="365.7" stroke="#111" stroke-width="1.7"/>
<circle cx="466" cy="325.0" r="1.9" fill="#000"/>
<circle cx="466" cy="330.6" r="1.9" fill="#000"/>
<circle cx="466" cy="403.7" r="1.9" fill="#000"/>
<circle cx="466" cy="406.7" r="1.9" fill="#000"/>
<circle cx="466" cy="415.3" r="1.9" fill="#000"/>
<circle cx="466" cy="417.8" r="1.9" fill="#000"/>
<circle cx="466" cy="438.7" r="1.9" fill="#000"/>
<circle cx="466" cy="467.90000000000003" r="1.9" fill="#000"/>
<line x1="515.3" y1="322.5" x2="515.3" y2="399.5" stroke="#111" stroke-width="1.05"/>
<rect x="498" y="351.7" width="34.9" height="20.9" fill="#ff0000" stroke="#151515" stroke-width="0.85"/>
<line x1="498" y1="361.2" x2="532.9" y2="361.2" stroke="#111" stroke-width="1.7"/>
<circle cx="515.3" cy="308.6" r="1.9" fill="#000"/>
<circle cx="515.3" cy="311.6" r="1.9" fill="#000"/>
<circle cx="515.3" cy="404.6" r="1.9" fill="#000"/>
<circle cx="515.3" cy="408.6" r="1.9" fill="#000"/>
<circle cx="515.3" cy="416.0" r="1.9" fill="#000"/>
<circle cx="515.3" cy="419.1" r="1.9" fill="#000"/>
<circle cx="515.3" cy="421.6" r="1.9" fill="#000"/>
<circle cx="515.3" cy="444.8" r="1.9" fill="#000"/>
<path d="M466 304.2 V300.4 H515.3 V304.2" fill="none" stroke="#222" stroke-width="0.7"/>
<text transform="translate(490.65,298.70) scale(0.93,1)" text-anchor="middle" font-family="Liberation Sans, sans-serif" font-size="9.0" fill="#111" stroke="#111" stroke-width="0.3">0.00013</text>
</g>
</svg>
</body></html>
